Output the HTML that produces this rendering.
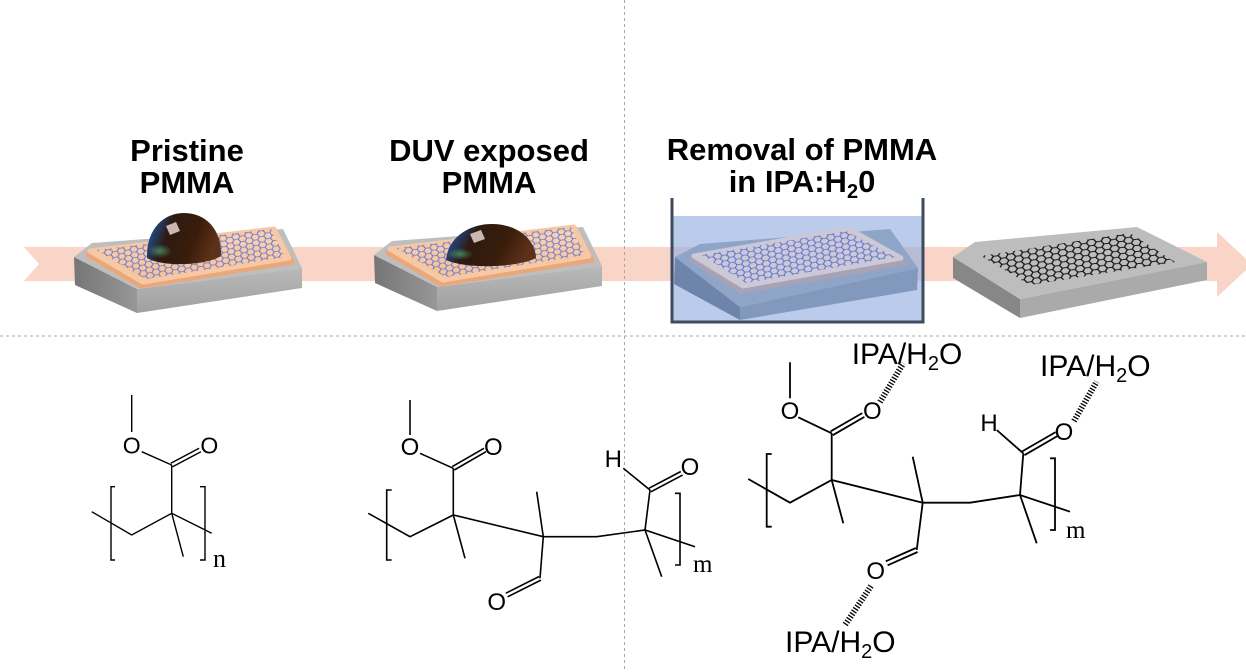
<!DOCTYPE html>
<html>
<head>
<meta charset="utf-8">
<style>
  html,body{margin:0;padding:0;background:#fff;}
  svg{display:block;}
  .t{font-family:"Liberation Sans",Arial,sans-serif;}
  .s{font-family:"Liberation Serif","Times New Roman",serif;}
</style>
</head>
<body>
<svg width="1246" height="672" viewBox="0 0 1246 672" xmlns="http://www.w3.org/2000/svg">
<defs>
  <pattern id="hexO" patternUnits="userSpaceOnUse" width="13.5" height="7.794" patternTransform="rotate(-7) scale(0.95,0.72)">
    <path d="M4.5,0 L2.25,3.897 L-2.25,3.897 L-4.5,0 L-2.25,-3.897 L2.25,-3.897Z M18,0 L15.75,3.897 L11.25,3.897 L9,0 L11.25,-3.897 L15.75,-3.897Z M4.5,7.794 L2.25,11.691 L-2.25,11.691 L-4.5,7.794 L-2.25,3.897 L2.25,3.897Z M18,7.794 L15.75,11.691 L11.25,11.691 L9,7.794 L11.25,3.897 L15.75,3.897Z M11.25,3.897 L9,7.794 L4.5,7.794 L2.25,3.897 L4.5,0 L9,0Z" fill="none" stroke="#6476d4" stroke-width="1.1"/>
  </pattern>
  <pattern id="hexB" patternUnits="userSpaceOnUse" width="13.5" height="7.794" patternTransform="rotate(-8) scale(1.0,0.72)">
    <path d="M4.5,0 L2.25,3.897 L-2.25,3.897 L-4.5,0 L-2.25,-3.897 L2.25,-3.897Z M18,0 L15.75,3.897 L11.25,3.897 L9,0 L11.25,-3.897 L15.75,-3.897Z M4.5,7.794 L2.25,11.691 L-2.25,11.691 L-4.5,7.794 L-2.25,3.897 L2.25,3.897Z M18,7.794 L15.75,11.691 L11.25,11.691 L9,7.794 L11.25,3.897 L15.75,3.897Z M11.25,3.897 L9,7.794 L4.5,7.794 L2.25,3.897 L4.5,0 L9,0Z" fill="none" stroke="#5670d0" stroke-width="1.1"/>
  </pattern>
  <pattern id="hexK" patternUnits="userSpaceOnUse" width="13.5" height="7.794" patternTransform="rotate(-8) scale(1.1,0.78)">
    <path d="M4.5,0 L2.25,3.897 L-2.25,3.897 L-4.5,0 L-2.25,-3.897 L2.25,-3.897Z M18,0 L15.75,3.897 L11.25,3.897 L9,0 L11.25,-3.897 L15.75,-3.897Z M4.5,7.794 L2.25,11.691 L-2.25,11.691 L-4.5,7.794 L-2.25,3.897 L2.25,3.897Z M18,7.794 L15.75,11.691 L11.25,11.691 L9,7.794 L11.25,3.897 L15.75,3.897Z M11.25,3.897 L9,7.794 L4.5,7.794 L2.25,3.897 L4.5,0 L9,0Z" fill="none" stroke="#111" stroke-width="1.3"/>
  </pattern>
  <linearGradient id="gLeft" x1="0" y1="0" x2="1" y2="0">
    <stop offset="0" stop-color="#767676"/><stop offset="1" stop-color="#979797"/>
  </linearGradient>
  <linearGradient id="gFront" x1="0" y1="0" x2="0" y2="1">
    <stop offset="0" stop-color="#b9b9b9"/><stop offset="1" stop-color="#a0a0a0"/>
  </linearGradient>
  <linearGradient id="gOr" x1="0" y1="0" x2="0" y2="1">
    <stop offset="0" stop-color="#f9d3b5"/><stop offset="1" stop-color="#f4c098"/>
  </linearGradient>
  <linearGradient id="gDome" x1="0" y1="0" x2="1" y2="0.25">
    <stop offset="0" stop-color="#2f66bd"/>
    <stop offset="0.16" stop-color="#23457c"/>
    <stop offset="0.36" stop-color="#2c1a10"/>
    <stop offset="0.72" stop-color="#3a1c0b"/>
    <stop offset="1" stop-color="#5c3119"/>
  </linearGradient>
  <radialGradient id="gGreen" cx="0.5" cy="0.5" r="0.5">
    <stop offset="0" stop-color="#4e9a6a" stop-opacity="0.8"/>
    <stop offset="1" stop-color="#4e9a6a" stop-opacity="0"/>
  </radialGradient>
  <g id="slabO">
    <polygon points="74,257 137,289 137,313 75,285" fill="url(#gLeft)"/>
    <polygon points="137,289 302,268 302,288 137,313" fill="url(#gFront)"/>
    <polygon points="74,257 92,243 283,229 302,268 137,289" fill="#bebebe"/>
    <polygon points="88,255 275,232 292,262 141,286" fill="#eaa77a" stroke="#eaa77a" stroke-width="5" stroke-linejoin="round"/>
    <polygon points="90,251 274,229 289,258 143,282" fill="url(#gOr)" stroke="#f6c8a3" stroke-width="5" stroke-linejoin="round"/>
    <polygon points="96,250 271,229 285,257 146,279" fill="url(#hexO)"/>
  </g>
</defs>

<rect width="1246" height="672" fill="#fff"/>

<!-- band arrow -->
<polygon points="24,247 1217,247 1217,232 1252,264.5 1217,297 1217,281 24,281 39,264" fill="#f9d5c7"/>

<!-- slab 1 -->
<use href="#slabO"/>
<path d="M147,258 C146,231 162,213 184,213 C207,213 222,231 221,256 C205,266 162,267 147,258 Z" fill="url(#gDome)"/>
<ellipse cx="160" cy="251" rx="12" ry="7" fill="url(#gGreen)"/>
<polygon points="166,226 176,222 180,231 170,235" fill="#e6d3cf" opacity="0.85"/>

<!-- slab 2 -->
<use href="#slabO" transform="translate(300,-2)"/>
<path d="M446,260 C448,238 468,224 492,224 C516,224 535,238 536,258 C516,268 466,269 446,260 Z" fill="url(#gDome)"/>
<ellipse cx="460" cy="254" rx="13" ry="6" fill="url(#gGreen)"/>
<polygon points="470,234 481,230 485,239 474,243" fill="#e6d3cf" opacity="0.85"/>

<!-- beaker -->
<rect x="673" y="216" width="249" height="105" fill="rgba(150,175,225,0.65)"/>
<polygon points="675,257 740,307 740,320 674,284" fill="#6e84aa"/>
<polygon points="740,307 918,268 917,290 740,320" fill="#8298bd"/>
<polygon points="675,257 700,244 890,229 918,268 740,307" fill="#8fa5c8"/>
<polygon points="692,260 850,233 905,263 741,291" fill="#a8a2b7" stroke="#a8a2b7" stroke-width="5" stroke-linejoin="round"/>
<polygon points="694,256 849,229 901,258 743,286" fill="#cdc8d6" stroke="#cdc8d6" stroke-width="5" stroke-linejoin="round"/>
<polygon points="702,255 846,231 895,257 746,283" fill="url(#hexB)"/>
<path d="M672,198 V322 H923 V198" fill="none" stroke="#3d4b61" stroke-width="3"/>

<!-- slab 4 -->
<polygon points="953,257 1020,299 1020,318 953,278" fill="#878787"/>
<polygon points="1020,299 1207,262 1207,280 1020,318" fill="#aaaaaa"/>
<polygon points="953,257 975,242 1137,227 1207,262 1020,299" fill="#bdbdbd"/>
<polygon points="981,256 1130,233 1175,262 1030,285" fill="url(#hexK)"/>

<!-- dashed separators -->
<line x1="0" y1="336" x2="1246" y2="336" stroke="#a6a6a6" stroke-width="1" stroke-dasharray="3,3"/>
<line x1="624.5" y1="0" x2="624.5" y2="672" stroke="#a6a6a6" stroke-width="1" stroke-dasharray="3,3"/>

<!-- titles -->
<g class="t" font-weight="bold" font-size="31" text-anchor="middle" fill="#000">
  <text x="187" y="161">Pristine</text>
  <text x="187" y="193">PMMA</text>
  <text x="489" y="161">DUV exposed</text>
  <text x="489" y="193">PMMA</text>
  <text x="802" y="160">Removal of PMMA</text>
  <text x="802" y="192">in IPA:H<tspan font-size="20" dy="6">2</tspan><tspan dy="-6">0</tspan></text>
</g>

<!-- structure 1 -->
<g stroke="#000" stroke-width="1.4" fill="none">
  <line x1="131.7" y1="395" x2="131.7" y2="432"/>
  <line x1="141.7" y1="451.7" x2="171.7" y2="465"/>
  <line x1="172.6" y1="466.8" x2="200.9" y2="451.8"/>
  <line x1="170.8" y1="463.2" x2="199.1" y2="448.2"/>
  <line x1="171.7" y1="465" x2="171.7" y2="513.3"/>
  <polyline points="91.7,511.7 131.7,535 171.7,513.3 211.7,533.3"/>
  <line x1="171.7" y1="513.3" x2="183.3" y2="556.7"/>
  <polyline points="115,486.7 111,486.7 111,560 115,560"/>
  <polyline points="200,486.7 205,486.7 205,560 200,560"/>
</g>
<g class="t" font-size="23" text-anchor="middle" fill="#000">
  <text x="131.7" y="453.5">O</text>
  <text x="209.3" y="453.5">O</text>
</g>
<text class="s" x="213" y="567" font-size="26" fill="#000">n</text>

<!-- structure 2 -->
<g stroke="#000" stroke-width="1.6" fill="none">
  <line x1="410" y1="400" x2="410" y2="435"/>
  <line x1="420" y1="453.3" x2="453.3" y2="468.3"/>
  <line x1="454.3" y1="470" x2="486" y2="451.7"/>
  <line x1="452.3" y1="466.6" x2="484" y2="448.3"/>
  <line x1="453.3" y1="468.3" x2="453.3" y2="515"/>
  <polyline points="368.3,513.3 410,536.7 453.3,515 543.3,536.7 596.7,536.7 645,530 695,546.7"/>
  <line x1="453.3" y1="515" x2="465" y2="558.3"/>
  <line x1="543.3" y1="536.7" x2="536.7" y2="491.7"/>
  <line x1="543.3" y1="536.7" x2="540" y2="578.3"/>
  <line x1="540.9" y1="580.1" x2="507.6" y2="596.8"/>
  <line x1="539.1" y1="576.5" x2="505.8" y2="593.2"/>
  <line x1="645" y1="530" x2="650" y2="490"/>
  <line x1="623.3" y1="468.3" x2="650" y2="490"/>
  <line x1="650.9" y1="491.8" x2="682.6" y2="475.1"/>
  <line x1="649.1" y1="488.2" x2="680.8" y2="471.5"/>
  <line x1="645" y1="530" x2="661.7" y2="576.7"/>
  <polyline points="391.7,490 386.7,490 386.7,560 391.7,560"/>
  <polyline points="675,493.3 680,493.3 680,565 675,565"/>
</g>
<g class="t" font-size="24" text-anchor="middle" fill="#000">
  <text x="410" y="455">O</text>
  <text x="493.3" y="455">O</text>
  <text x="496.7" y="610">O</text>
  <text x="613.3" y="467">H</text>
  <text x="690" y="475">O</text>
</g>
<text class="s" x="693" y="572" font-size="25" fill="#000">m</text>

<!-- structure 3 -->
<g stroke="#000" stroke-width="1.8" fill="none">
  <line x1="790" y1="362.3" x2="790" y2="398.3"/>
  <line x1="798.3" y1="417.3" x2="831.7" y2="433.3"/>
  <line x1="832.8" y1="435.2" x2="864.4" y2="416.9"/>
  <line x1="830.6" y1="431.4" x2="862.2" y2="413.1"/>
  <line x1="831.7" y1="433.3" x2="831.7" y2="480"/>
  <polyline points="748.3,479 790,502.7 831.7,480 922.7,502.7 970,502.7 1020,495 1070,511.7"/>
  <line x1="831.7" y1="480" x2="843.3" y2="523.3"/>
  <line x1="922.7" y1="502.7" x2="912.7" y2="456.7"/>
  <line x1="922.7" y1="502.7" x2="916.7" y2="550"/>
  <line x1="917.6" y1="552" x2="887.6" y2="565.3"/>
  <line x1="915.8" y1="548" x2="885.8" y2="561.3"/>
  <line x1="1020" y1="495" x2="1023.3" y2="453.3"/>
  <line x1="996.7" y1="430" x2="1023.3" y2="453.3"/>
  <line x1="1024.4" y1="455.2" x2="1057.8" y2="435.9"/>
  <line x1="1022.2" y1="451.4" x2="1055.6" y2="432.1"/>
  <line x1="1020" y1="495" x2="1036.7" y2="543.3"/>
  <polyline points="771.7,454 766.7,454 766.7,526.7 771.7,526.7"/>
  <polyline points="1050,458.3 1055,458.3 1055,530 1050,530"/>
</g>
<g stroke="#000" stroke-width="6" stroke-dasharray="1.3,1.7" fill="none">
  <line x1="880" y1="402" x2="903.3" y2="363.3"/>
  <line x1="1074" y1="421" x2="1096.7" y2="381.7"/>
  <line x1="871" y1="586" x2="845" y2="625"/>
</g>
<g class="t" font-size="24" text-anchor="middle" fill="#000">
  <text x="790" y="419">O</text>
  <text x="872.3" y="419">O</text>
  <text x="989" y="431">H</text>
  <text x="1064" y="440">O</text>
  <text x="875.7" y="579">O</text>
</g>
<text class="s" x="1066" y="538" font-size="25" fill="#000">m</text>
<g class="t" font-size="30" fill="#000">
  <text x="851.7" y="364">IPA/H<tspan font-size="20" dy="6">2</tspan><tspan dy="-6">O</tspan></text>
  <text x="1040" y="376">IPA/H<tspan font-size="20" dy="6">2</tspan><tspan dy="-6">O</tspan></text>
  <text x="785" y="652">IPA/H<tspan font-size="20" dy="6">2</tspan><tspan dy="-6">O</tspan></text>
</g>
</svg>
</body>
</html>
